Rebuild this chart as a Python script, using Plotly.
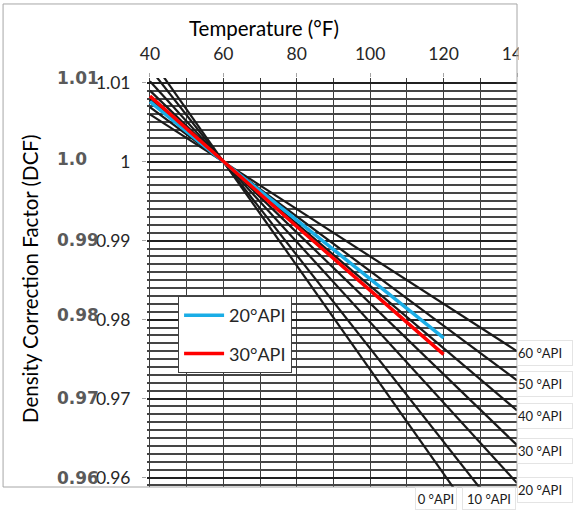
import plotly.graph_objects as go

# temperatures (F) used for the two computed DCF curves
temps = [40, 60, 80, 100, 120]
dcf_20api = [1.0076, 1.0000, 0.9926, 0.9852, 0.9777]
dcf_30api = [1.0083, 1.0000, 0.9918, 0.9837, 0.9756]

# straight API lines of the chart behind, read at 40F and 140F
api_grades = ["0 °API", "10 °API", "20 °API", "30 °API", "40 °API", "50 °API", "60 °API"]
chart_temps = [40, 140]
chart_dcf_40 = [1.0132, 1.0118, 1.0102, 1.0090, 1.0079, 1.0069, 1.0060]
chart_dcf_140 = [0.9473, 0.9527, 0.9593, 0.9641, 0.9685, 0.9723, 0.9760]

# old printed labels of the chart's y scale
scan_labels = ["1.01", "1.0", "0.99", "0.98", "0.97", "0.96"]
scan_label_y = [1.0106, 1.0003, 0.9901, 0.9806, 0.9701, 0.9600]

font = "Lato"

fig = go.Figure()

for i in range(len(api_grades)):
    fig.add_trace(
        go.Scatter(
            x=chart_temps,
            y=[chart_dcf_40[i], chart_dcf_140[i]],
            mode="lines",
            line=dict(color="#1a1a1a", width=2.2),
            showlegend=False,
            hoverinfo="skip",
        )
    )

fig.add_trace(
    go.Scatter(x=temps, y=dcf_20api, mode="lines", name="20°API",
               legendgroup="a", line=dict(color="#1AADE6", width=3.5))
)
fig.add_trace(
    go.Scatter(x=temps, y=dcf_30api, mode="lines", name="30°API",
               legendgroup="b", line=dict(color="#FF0000", width=3.5))
)

fig.update_layout(
    width=578,
    height=515,
    autosize=False,
    margin=dict(l=147, r=61, t=78, b=28),
    paper_bgcolor="white",
    plot_bgcolor="white",
    font=dict(family=font, color="#262626"),
    legend=dict(
        x=0.084, y=0.467, xanchor="left", yanchor="top",
        bgcolor="white", bordercolor="#404040", borderwidth=1,
        font=dict(size=18, family=font, color="#262626"),
        traceorder="grouped", tracegroupgap=12, itemwidth=40,
    ),
)

fig.update_xaxes(
    side="top",
    range=[39.2, 140],
    tick0=40, dtick=20,
    ticks="outside", ticklen=4, tickcolor="#a6a6a6",
    ticklabelstandoff=6,
    tickfont=dict(size=17.5, family=font, color="#262626"),
    showgrid=True, gridcolor="#3c3c3c", gridwidth=1.4,
    minor=dict(tick0=40, dtick=10, showgrid=True, gridcolor="#3c3c3c", gridwidth=1.4),
    zeroline=False, showline=False,
)
fig.update_yaxes(
    range=[0.9588, 1.0106],
    tick0=0.96, dtick=0.01,
    ticks="outside", ticklen=4, tickcolor="#a6a6a6",
    ticklabelstandoff=8,
    tickfont=dict(size=17.5, family=font, color="#262626"),
    showgrid=True, gridcolor="#202020", gridwidth=2,
    minor=dict(dtick=0.001, showgrid=True, gridcolor="#454545", gridwidth=1.5),
    zeroline=False, showline=False,
)

# axis titles are placed where the original has them
fig.add_annotation(text="Temperature (°F)", xref="paper", yref="paper",
                   x=0.316, y=1.1222, xanchor="center", yanchor="middle",
                   showarrow=False,
                   font=dict(size=20.5, family=font, color="black"))
fig.add_annotation(text="Density Correction Factor (DCF)", xref="paper", yref="paper",
                   x=-0.316, y=0.5086, xanchor="center", yanchor="middle",
                   textangle=-90, showarrow=False,
                   font=dict(size=20.5, family=font, color="black"))

for lab, yv in zip(scan_labels, scan_label_y):
    fig.add_annotation(text="<b>" + lab + "</b>", xref="paper", yref="y",
                       x=-0.2486, y=yv, xanchor="left", yanchor="middle",
                       showarrow=False,
                       font=dict(size=17, family="DejaVu Sans", color="#5a5a5a"))

# API labels of the chart lines
right_labels = ["60 °API", "50 °API", "40 °API", "30 °API", "20 °API"]
right_y = [0.3276, 0.2518, 0.1736, 0.0880, -0.0073]
for lab, yv in zip(right_labels, right_y):
    fig.add_annotation(text=lab, xref="paper", yref="paper", x=1.0, y=yv,
                       xanchor="left", yanchor="middle", align="left",
                       width=54, height=24, showarrow=False,
                       bordercolor="#e4e4e4", borderwidth=1, borderpad=0,
                       font=dict(size=13, family=font, color="#1a1a1a"))
bottom_labels = ["0 °API", "10 °API"]
bottom_x = [0.781, 0.924]
bottom_w = [40, 52]
for lab, xv, w in zip(bottom_labels, bottom_x, bottom_w):
    fig.add_annotation(text=lab, xref="paper", yref="paper", x=xv, y=-0.0293,
                       xanchor="center", yanchor="middle",
                       width=w, height=21, showarrow=False,
                       bordercolor="#e4e4e4", borderwidth=1, borderpad=0,
                       font=dict(size=13, family=font, color="#1a1a1a"))

# chart area ends at the plot's right edge, cutting the last tick label
fig.add_shape(type="rect", xref="paper", yref="paper",
              x0=1.004, x1=1.2, y0=1.0, y1=1.2,
              fillcolor="white", line=dict(width=0), layer="above")
fig.add_shape(type="rect", xref="paper", yref="paper",
              x0=-0.389, x1=1.0, y0=0.0, y1=1.181,
              line=dict(color="#a6a6a6", width=1), layer="above")

# drop the page's default body margin so the figure sits at the window corner
fig.write_html("out.html", config={"displayModeBar": False},
               post_script="document.body.style.margin='0';")
